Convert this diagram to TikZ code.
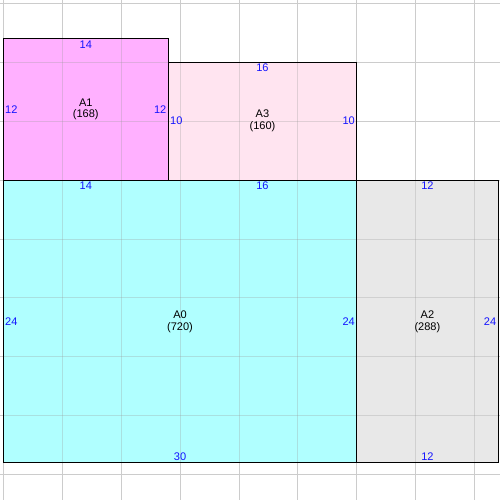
\documentclass[tikz,border=0pt]{standalone}
\usepackage{fontspec}
\setmainfont{Liberation Sans}
\definecolor{cA1}{RGB}{255,176,255}
\definecolor{cA3}{RGB}{255,228,240}
\definecolor{cA0}{RGB}{176,255,255}
\definecolor{cA2}{RGB}{232,232,232}
\definecolor{gridc}{RGB}{204,204,204}
\definecolor{dimc}{RGB}{20,20,255}
\tikzset{
  dim/.style={text=dimc, font=\fontsize{8}{9}\selectfont, inner sep=1.2pt},
  nm/.style={font=\fontsize{8}{8.6}\selectfont, align=center, inner sep=0pt},
  room/.style={draw=black, line width=0.75pt},
}
\begin{document}
\begin{tikzpicture}[x=0.3cm,y=-0.3cm]
\useasboundingbox[fill=white] (-0.28,-0.28) rectangle (42.16,42.16);
% grid under
\foreach \k in {0,5,...,40} {
  \draw[gridc, line width=0.6pt] (\k,-0.28) -- (\k,42.16);
  \draw[gridc, line width=0.6pt] (-0.28,\k) -- (42.16,\k);
}
% fills
\fill[cA1] (0,3) rectangle (14,15);
\fill[cA3] (14,5) rectangle (30,15);
\fill[cA0] (0,15) rectangle (30,39);
\fill[cA2] (30,15) rectangle (42,39);
% grid over fills, faint
\begin{scope}
\clip (0,3) -- (14,3) -- (14,5) -- (30,5) -- (30,15) -- (42,15) -- (42,39) -- (0,39) -- cycle;
\foreach \k in {0,5,...,40} {
  \draw[black!40, opacity=0.3, line width=0.6pt] (\k,-0.28) -- (\k,42.16);
  \draw[black!40, opacity=0.3, line width=0.6pt] (-0.28,\k) -- (42.16,\k);
}
\end{scope}
% outlines
\draw[room] (0,3) rectangle (14,15);
\draw[room] (14,5) rectangle (30,15);
\draw[room] (0,15) rectangle (30,39);
\draw[room] (30,15) rectangle (42,39);
% A1
\node[nm] (nA1) at (7,9) {A1\\(168)};
\node[dim, anchor=north] (a1t) at (7,3) {14};
\node[dim, anchor=west] (a1l) at (0,9) {12};
\node[dim, anchor=east] (a1r) at (14,9) {12};
% A3
\node[nm] (nA3) at (22,10) {A3\\(160)};
\node[dim, anchor=north] (a3t) at (22,5) {16};
\node[dim, anchor=west] (a3l) at (14,10) {10};
\node[dim, anchor=east] (a3r) at (30,10) {10};
% A0
\node[nm] (nA0) at (15,27) {A0\\(720)};
\node[dim, anchor=north] (a0t1) at (7,15) {14};
\node[dim, anchor=north] (a0t2) at (22,15) {16};
\node[dim, anchor=south] (a0b) at (15,39) {30};
\node[dim, anchor=west] (a0l) at (0,27) {24};
\node[dim, anchor=east] (a0r) at (30,27) {24};
% A2
\node[nm] (nA2) at (36,27) {A2\\(288)};
\node[dim, anchor=north] (a2t) at (36,15) {12};
\node[dim, anchor=south] (a2b) at (36,39) {12};
\node[dim, anchor=east] (a2r) at (42,27) {24};
\end{tikzpicture}
\end{document}
